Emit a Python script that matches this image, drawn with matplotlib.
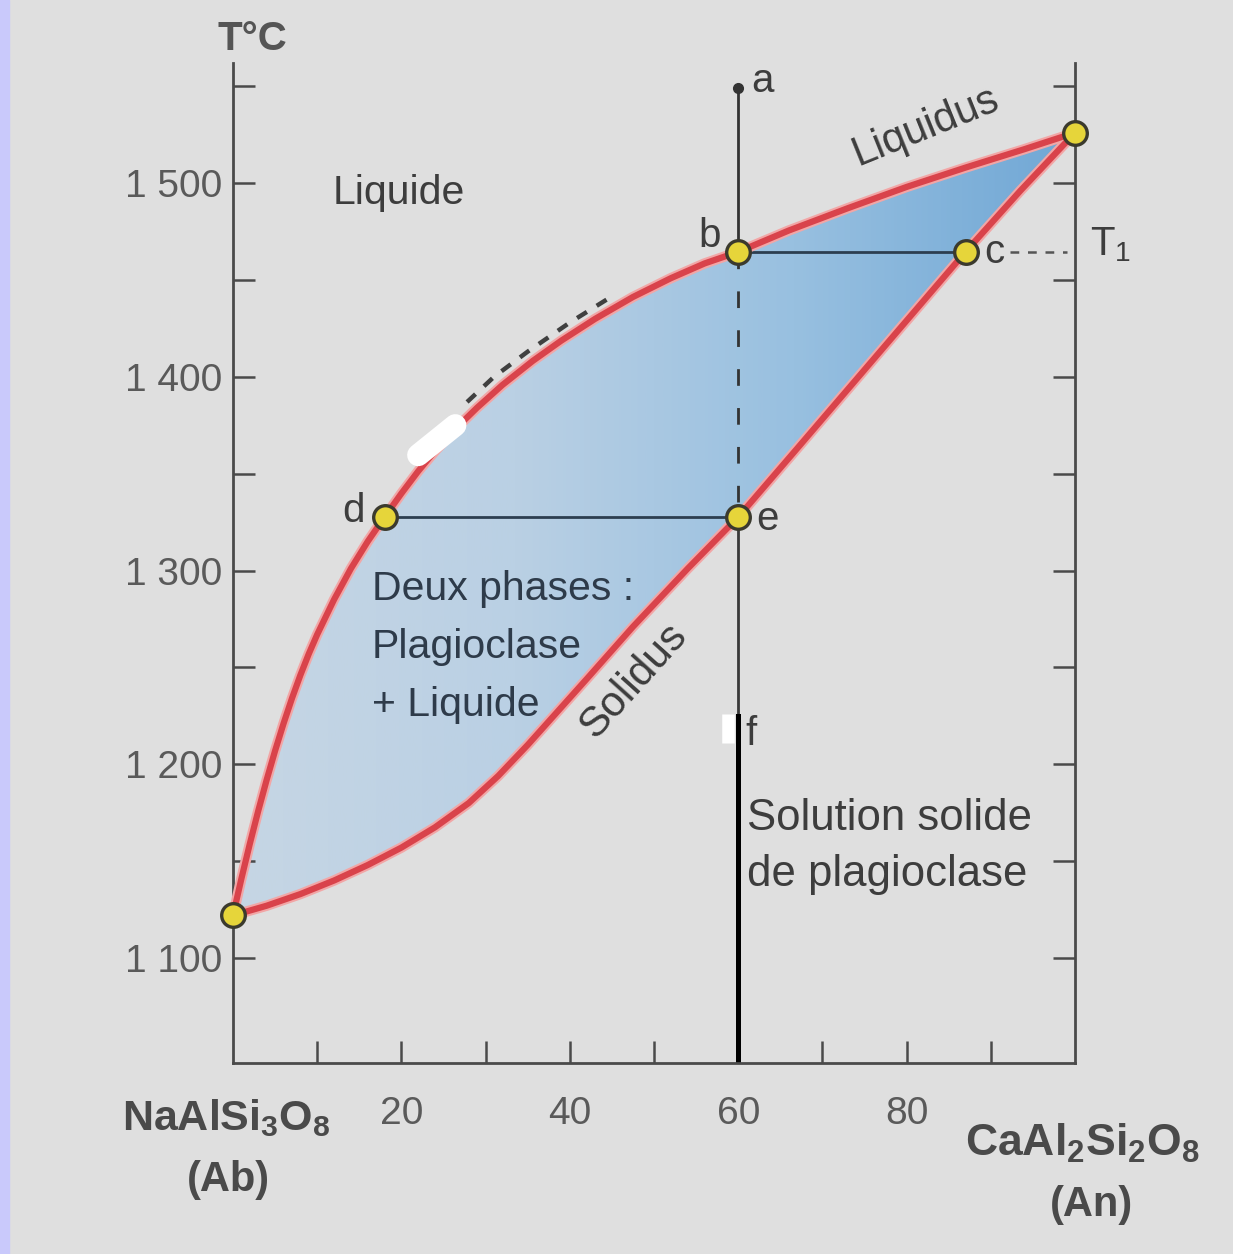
import numpy as np
import matplotlib
matplotlib.use("Agg")
import matplotlib.pyplot as plt
from matplotlib.colors import LinearSegmentedColormap
from matplotlib.patches import Polygon, Rectangle

plt.rcParams['font.family'] = ['Liberation Sans', 'DejaVu Sans']
plt.rcParams['mathtext.fontset'] = 'custom'
plt.rcParams['mathtext.rm'] = 'Liberation Sans'
plt.rcParams['mathtext.bf'] = 'Liberation Sans:bold'
plt.rcParams['mathtext.it'] = 'Liberation Sans:italic'

# liquidus / solidus (% An, °C)
liq_x = [0, 1, 2, 3, 4, 5, 6, 7, 8, 9, 10, 12, 14, 16, 18, 20, 22, 24, 26.5, 29,
         32, 35.6, 39, 43, 47.5, 52, 56, 60, 66, 73, 80, 87, 94, 100]
liq_T = [1122, 1141, 1159, 1176, 1192, 1207, 1221, 1234, 1246, 1257, 1267, 1285,
         1301, 1315, 1327.6, 1339.8, 1351.3, 1361.7, 1373.5, 1384.1, 1395.8, 1408.2,
         1418.7, 1429.9, 1441.2, 1450.9, 1458.5, 1464.5, 1475.5, 1487, 1498, 1508,
         1517.5, 1526]
sol_x = [0, 4, 8, 12, 16, 20, 24, 28, 31.5, 35, 38.5, 42, 47.5, 54, 60,
         67, 73.5, 80, 87, 93.5, 100]
sol_T = [1122, 1127, 1133, 1140, 1148, 1157, 1167.5, 1180, 1194, 1210, 1227, 1244,
         1271, 1301, 1327.6, 1363, 1396, 1429, 1464.5, 1496, 1526]

# dashed guide above the liquidus
guide_x = [27.8, 31, 35, 40, 44.8]
guide_T = [1387, 1400, 1413, 1428, 1441]

# named points
pts = {'Ab': (0, 1122), 'd': (18, 1327.6), 'e': (60, 1327.6),
       'b': (60, 1464.5), 'c': (87, 1464.5), 'An': (100, 1526)}
a_pt = (60, 1549)
f_T = 1225
T1 = 1464.5

x_ticks = [10, 20, 30, 40, 50, 60, 70, 80, 90]
x_labels = ['', '20', '', '40', '', '60', '', '80', '']
y_major = [1100, 1200, 1300, 1400, 1500]
y_labels = ['1 100', '1 200', '1 300', '1 400', '1 500']
y_minor = [1150, 1250, 1350, 1450, 1550]

bg = '#dfdfdf'
axc = '#4a4a4a'
red = '#d9434b'

fig = plt.figure(figsize=(12.33, 12.54), dpi=100, facecolor=bg)
fig.add_artist(Rectangle((0, 0), 9 / 1233, 1, transform=fig.transFigure,
                         color='#c9c9fb', zorder=0))
ax = fig.add_axes([0.18897, 0.1526, 0.6829, 0.7972])
ax.set_facecolor(bg)

# two-phase field with a soft gradient
poly = Polygon(np.column_stack([liq_x + sol_x[::-1], liq_T + sol_T[::-1]]),
               closed=True, facecolor='none', edgecolor='none')
ax.add_patch(poly)
cmap = LinearSegmentedColormap.from_list('fill', ['#c6d6e4', '#bad0e4', '#98c0e0', '#70a7d5'])
grad = np.linspace(0, 1, 300).reshape(1, -1)
im = ax.imshow(grad, extent=[0, 100, 1100, 1540], aspect='auto', cmap=cmap,
               origin='lower', zorder=1)
im.set_clip_path(poly)

# curves
for xs, ts in [(liq_x, liq_T), (sol_x, sol_T)]:
    ax.plot(xs, ts, color='#f2a6a6', lw=7.5, zorder=3, solid_capstyle='round',
            solid_joinstyle='round', clip_on=False)
    ax.plot(xs, ts, color=red, lw=4.5, zorder=4, solid_capstyle='round',
            solid_joinstyle='round', clip_on=False)

ax.plot(guide_x, guide_T, color='#404040', lw=3.2, ls=(0, (2.6, 2.6)), zorder=3)

# vertical path at 60 %
ax.plot([a_pt[0], pts['b'][0]], [a_pt[1], pts['b'][1]], color='#333333', lw=2, zorder=2)
ax.plot([60, 60], [pts['b'][1], pts['e'][1]], color='#333333', lw=2,
        ls=(0, (6, 8)), zorder=2)
ax.plot([60, 60], [pts['e'][1], f_T], color='#3a3a3a', lw=2, zorder=2)
ax.plot([60, 60], [f_T, 1046], color='black', lw=3.6, zorder=2)
ax.plot(*a_pt, 'o', color='#333333', ms=7, zorder=5)

# tie lines
ax.plot([pts['b'][0], pts['c'][0]], [T1, T1], color='#2c3e50', lw=2, zorder=2)
ax.plot([pts['d'][0], pts['e'][0]], [pts['d'][1], pts['e'][1]], color='#2c3e50',
        lw=2, zorder=2)
ax.plot([92.3, 99], [T1, T1], color='#555555', lw=1.8, ls=(0, (3.5, 3.5)), zorder=2)

# white erasures of the scan
ax.plot([22, 26.4], [1359.6, 1375], color='white', lw=16, solid_capstyle='round', zorder=6)
ax.plot([58.8, 58.8], [1226, 1211], color='white', lw=9, solid_capstyle='butt', zorder=6)

for k, (x, t) in pts.items():
    ax.plot(x, t, 'o', ms=17, mfc='#e6d53a', mec='#3b3a2e', mew=2.4, zorder=7,
            clip_on=False)

# axes
ax.set_xlim(0, 100)
ax.set_ylim(1046, 1562)
ax.spines['top'].set_visible(False)
for s in ['left', 'right', 'bottom']:
    ax.spines[s].set_color(axc)
    ax.spines[s].set_linewidth(2)
ax.set_xticks(x_ticks)
ax.set_xticklabels(x_labels)
ax.set_yticks(y_major)
ax.set_yticklabels(y_labels)
ax.set_yticks(y_minor, minor=True)
ax.tick_params(axis='y', which='both', direction='in', length=16, width=1.8,
               color=axc, left=True, right=True, labelsize=28, labelcolor='#5a5a5a', pad=8)
ax.tick_params(axis='x', direction='in', length=16, width=1.8, color=axc,
               labelsize=28, labelcolor='#5a5a5a', pad=24)

txt = '#3d3d3d'
ax.text(2.3, 1568.6, 'T°C', fontsize=29, fontweight='bold', color='#555555',
        ha='center', va='baseline', clip_on=False)
ax.text(11.8, 1489, 'Liquide', fontsize=29.5, color=txt, va='baseline')
for i, line in enumerate(['Deux phases :', 'Plagioclase', '+ Liquide']):
    ax.text(16.5, 1284.8 - 30 * i, line, fontsize=29.5, color='#2e3b4a', va='baseline')
ax.text(61.0, 1166, 'Solution solide', fontsize=31.5, color=txt, va='baseline')
ax.text(61.0, 1137, 'de plagioclase', fontsize=31.5, color=txt, va='baseline')
ax.text(47.6, 1243, 'Solidus', fontsize=30.5, color=txt, rotation=48,
        ha='center', va='center', rotation_mode='anchor')
ax.text(82.3, 1529, 'Liquidus', fontsize=30, color=txt, rotation=22,
        ha='center', va='center', rotation_mode='anchor')
for s, x, t in [('a', 61.6, 1547), ('b', 55.3, 1467), ('c', 89.2, 1459),
                ('d', 13.0, 1325), ('e', 62.2, 1321), ('f', 60.9, 1210)]:
    ax.text(x, t, s, fontsize=29, color=txt, va='baseline')
ax.text(101.8, 1462.8, r'T$_1$', fontsize=29, color=txt, va='baseline', clip_on=False)

ax.text(-0.8, 1011, r'$\mathbf{NaAlSi_3O_8}$', fontsize=31, color='#4a4a4a',
        ha='center', va='baseline', clip_on=False)
ax.text(-0.6, 980, '(Ab)', fontsize=30, fontweight='bold', color='#4a4a4a',
        ha='center', va='baseline', clip_on=False)
ax.text(86.9, 998, r'$\mathbf{CaAl_2Si_2O_8}$', fontsize=32, color='#4a4a4a',
        ha='left', va='baseline', clip_on=False)
ax.text(102.0, 967, '(An)', fontsize=30, fontweight='bold', color='#4a4a4a',
        ha='center', va='baseline', clip_on=False)

fig.savefig('out.png', dpi=100, facecolor=bg)
